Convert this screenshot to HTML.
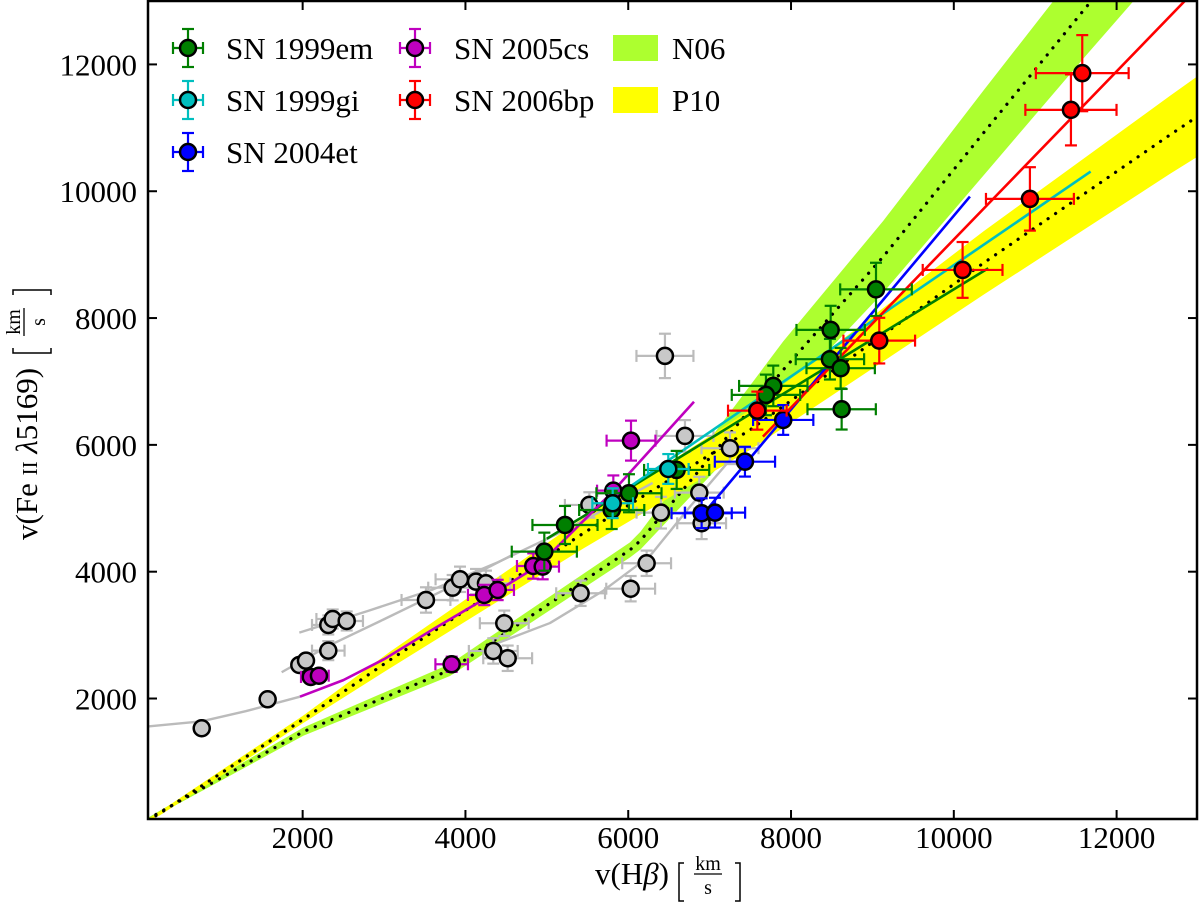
<!DOCTYPE html>
<html><head><meta charset="utf-8"><style>
html,body{margin:0;padding:0;background:#fff;}
svg{display:block;font-family:"Liberation Serif","DejaVu Serif",serif;}
</style></head><body>
<svg id="chart" width="1200" height="902" viewBox="0 0 1200 902">
<defs><clipPath id="clip"><rect x="148" y="1" width="1050" height="818"/></clipPath></defs>
<g id="plot" clip-path="url(#clip)"></g>
<g id="axes"></g>
<g id="legend"></g>
<g font-size="31">
<text x="595" y="884">v(H<tspan font-style="italic">β</tspan>)</text>
<path d="M684,863 h-5 v38 h5 M735,863 h5 v38 h-5" fill="none" stroke="#000" stroke-width="1.5"/>
<text x="708" y="870" font-size="20" text-anchor="middle">km</text>
<line x1="694" y1="874" x2="722" y2="874" stroke="#000" stroke-width="1.3"/>
<text x="708" y="894" font-size="20" text-anchor="middle">s</text>
</g>
<g transform="translate(37,540) rotate(-90)" font-size="31">
<text x="0" y="0">v(Fe <tspan font-size="21">II</tspan> <tspan font-style="italic">λ</tspan>5169)</text>
<path d="M192,-24 h-5 v38 h5 M245,-24 h5 v38 h-5" fill="none" stroke="#000" stroke-width="1.5"/>
<text x="218" y="-17" font-size="20" text-anchor="middle">km</text>
<line x1="204" y1="-13" x2="232" y2="-13" stroke="#000" stroke-width="1.3"/>
<text x="218" y="8" font-size="20" text-anchor="middle">s</text>
</g>
</svg>
<script>
// ---- data ----
const xTicks = [2000, 4000, 6000, 8000, 10000, 12000];
const yTicks = [2000, 4000, 6000, 8000, 10000, 12000];
// N06 band
const n06X = [100, 250, 2008, 3810, 6021, 6150, 7904, 9133, 10362, 11632, 13000];
const n06Y = [100, 210, 1477, 2450, 4343, 4490, 7182, 8968, 10915, 12912, 15015];
const n06W = [20, 25, 65, 95, 120, 140, 450, 565, 670, 760, 850];
// P10 band
const p10X = [100, 247, 2008, 3073, 5448, 7495, 10362, 12655, 13100];
const p10Y = [80, 190, 1673, 2608, 4606, 6235, 8865, 10888, 11270];
const p10W = [20, 30, 60, 130, 240, 315, 500, 615, 640];
// gray comparison sample
const grayX = [760, 1570, 1959, 2041, 2315, 2315, 2369, 2541, 3515, 3843, 3933, 4130, 4252, 4477, 4342, 4519, 5415, 6030, 6226, 5522, 6451, 6697, 7250, 6873, 6402, 6902];
const grayY = [1531, 1988, 2529, 2597, 2755, 3160, 3254, 3223, 3554, 3748, 3880, 3843, 3817, 3187, 2750, 2635, 3660, 3732, 4133, 5053, 7403, 6141, 5947, 5247, 4931, 4764];
const grayXErr = [0, 0, 0, 0, 200, 200, 200, 200, 300, 300, 300, 300, 300, 300, 300, 300, 300, 300, 300, 300, 350, 350, 350, 300, 300, 300];
const grayYErr = [0, 0, 0, 0, 150, 150, 150, 150, 200, 200, 200, 200, 200, 200, 200, 200, 200, 200, 200, 200, 350, 250, 250, 250, 250, 250];
const grayCurveAX = [100, 760, 1300, 1967];
const grayCurveAY = [1560, 1640, 1800, 2029];
const grayCurveBX = [1742, 2300, 3000, 3800, 4600];
const grayCurveBY = [2414, 2820, 3250, 3750, 4280];
const grayCurveCX = [1959, 2800, 3600, 4400, 5300, 6300];
const grayCurveCY = [3039, 3380, 3720, 4150, 4700, 5400];
const grayCurveDX = [4385, 5038, 5693, 6268, 6759, 7250];
const grayCurveDY = [2870, 3190, 3700, 4250, 5026, 5762];
// SN 1999em
const em99X = [5223, 4969, 5797, 6009, 6595, 7782, 7692, 8487, 8478, 8610, 9044, 8622];
const em99Y = [4737, 4316, 4973, 5237, 5605, 6930, 6788, 7813, 7351, 7209, 8452, 6562];
const em99XErr = [400, 400, 400, 400, 400, 420, 420, 420, 420, 420, 440, 420];
const em99YErr = [300, 300, 300, 300, 300, 320, 320, 380, 320, 320, 420, 320];
const em99FitX = [5000, 10423];
const em99FitY = [4520, 8786];
// SN 1999gi
const gi99X = [6492, 5809];
const gi99Y = [5620, 5080];
const gi99XErr = [250, 250];
const gi99YErr = [235, 235];
const gi99FitX = [6021, 11681];
const gi99FitY = [5341, 10310];
// SN 2004et
const et04X = [6902, 7066, 7434, 7904];
const et04Y = [4922, 4931, 5735, 6393];
const et04XErr = [370, 370, 370, 370];
const et04YErr = [235, 235, 235, 235];
const et04FitX = [6963, 10198];
const et04FitY = [4974, 9916];
// SN 2005cs
const cs05X = [2100, 2200, 3831, 4231, 4396, 4833, 4949, 5817, 6034];
const cs05Y = [2340, 2360, 2540, 3633, 3712, 4090, 4080, 5278, 6067];
const cs05XErr = [120, 120, 200, 200, 200, 200, 200, 200, 300];
const cs05YErr = [60, 60, 120, 160, 160, 200, 200, 240, 315];
const cs05FitX = [1967, 2500, 3000, 3600, 4220, 4900, 5800, 6808];
const cs05FitY = [2029, 2290, 2620, 3090, 3560, 4100, 5250, 6680];
// SN 2006bp
const bp06X = [11578, 11439, 10935, 10108, 9084, 7586];
const bp06Y = [11862, 11283, 9879, 8759, 7644, 6540];
const bp06XErr = [570, 560, 540, 490, 440, 360];
const bp06YErr = [600, 560, 500, 440, 360, 300];
const bp06FitX = [7655, 10483, 12837, 13100];
const bp06FitY = [6130, 9879, 13000, 13360];

// ---- scales ----
const X = v => 148 + (v - 100) * 1050 / 12900;
const Y = v => 819 - (v - 100) * 818 / 12900;
const NS = "http://www.w3.org/2000/svg";
function mk(tag, attrs, parent) {
  const e = document.createElementNS(NS, tag);
  for (const k in attrs) e.setAttribute(k, attrs[k]);
  parent.appendChild(e);
  return e;
}
const plot = document.getElementById('plot');
const axes = document.getElementById('axes');
const legend = document.getElementById('legend');

function band(xs, ys, ws, color, name) {
  let up = xs.map((x, i) => X(x) + ',' + Y(ys[i] + ws[i]));
  let lo = xs.map((x, i) => X(x) + ',' + Y(ys[i] - ws[i])).reverse();
  const p = mk('polygon', {points: up.concat(lo).join(' '), fill: color, stroke: 'none'}, plot);
  
  
}
function line(xs, ys, color, w, name, dash) {
  const pts = xs.map((x, i) => X(x) + ',' + Y(ys[i])).join(' ');
  const a = {points: pts, fill: 'none', stroke: color, 'stroke-width': w, 'stroke-linejoin': 'round'};
  if (dash) { a['stroke-dasharray'] = dash; a['stroke-linecap'] = 'round'; }
  const p = mk('polyline', a, plot);
  
  
}
function points(xs, ys, xe, ye, ecolor, fill, name, parent) {
  const g = mk('g', {}, parent);
  
  
  const sw = 2.2, cap = 6;
  xs.forEach((x, i) => {
    const cx = X(x), cy = Y(ys[i]);
    if (xe[i] > 0) {
      const x1 = X(x - xe[i]), x2 = X(x + xe[i]);
      mk('line', {x1: x1, y1: cy, x2: x2, y2: cy, stroke: ecolor, 'stroke-width': sw}, g);
      mk('line', {x1: x1, y1: cy - cap, x2: x1, y2: cy + cap, stroke: ecolor, 'stroke-width': sw}, g);
      mk('line', {x1: x2, y1: cy - cap, x2: x2, y2: cy + cap, stroke: ecolor, 'stroke-width': sw}, g);
    }
    if (ye[i] > 0) {
      const y1 = Y(ys[i] - ye[i]), y2 = Y(ys[i] + ye[i]);
      mk('line', {x1: cx, y1: y1, x2: cx, y2: y2, stroke: ecolor, 'stroke-width': sw}, g);
      mk('line', {x1: cx - cap, y1: y1, x2: cx + cap, y2: y1, stroke: ecolor, 'stroke-width': sw}, g);
      mk('line', {x1: cx - cap, y1: y2, x2: cx + cap, y2: y2, stroke: ecolor, 'stroke-width': sw}, g);
    }
  });
  xs.forEach((x, i) => {
    const c = mk('circle', {cx: X(x), cy: Y(ys[i]), r: 8, fill: fill, stroke: '#000', 'stroke-width': 2.5}, g);
    
    
  });
}

band(n06X, n06Y, n06W, '#adff2f', 'n06-band');
band(p10X, p10Y, p10W, '#ffff00', 'p10-band');
line(n06X, n06Y, '#000', 3.2, 'n06-dotted-line', '0.1 9');
line(p10X, p10Y, '#000', 3.2, 'p10-dotted-line', '0.1 9');
line(grayCurveAX, grayCurveAY, '#bbbbbb', 2.4, 'gray-curve-a');
line(grayCurveBX, grayCurveBY, '#bbbbbb', 2.4, 'gray-curve-b');
line(grayCurveCX, grayCurveCY, '#bbbbbb', 2.4, 'gray-curve-c');
line(grayCurveDX, grayCurveDY, '#bbbbbb', 2.4, 'gray-curve-d');
points(grayX, grayY, grayXErr, grayYErr, '#bbbbbb', '#c8c8c8', 'gray-sample', plot);
line(em99FitX, em99FitY, '#007f00', 2.6, 'sn1999em-fit');
line(gi99FitX, gi99FitY, '#00bfbf', 2.6, 'sn1999gi-fit');
line(et04FitX, et04FitY, '#0000ff', 2.6, 'sn2004et-fit');
line(cs05FitX, cs05FitY, '#bf00bf', 2.6, 'sn2005cs-fit');
line(bp06FitX, bp06FitY, '#ff0000', 2.6, 'sn2006bp-fit');
points(cs05X, cs05Y, cs05XErr, cs05YErr, '#bf00bf', '#bf00bf', 'sn2005cs', plot);
points(em99X, em99Y, em99XErr, em99YErr, '#007f00', '#007f00', 'sn1999em', plot);
points(gi99X, gi99Y, gi99XErr, gi99YErr, '#00bfbf', '#00bfbf', 'sn1999gi', plot);
points(et04X, et04Y, et04XErr, et04YErr, '#0000ff', '#0000ff', 'sn2004et', plot);
points(bp06X, bp06Y, bp06XErr, bp06YErr, '#ff0000', '#ff0000', 'sn2006bp', plot);

// axes frame and ticks
const fr = mk('rect', {x: 148, y: 1, width: 1049, height: 818, fill: 'none', stroke: '#000', 'stroke-width': 2.5}, axes);


xTicks.forEach(t => {
  const x = X(t);
  mk('line', {x1: x, y1: 819, x2: x, y2: 810, stroke: '#000', 'stroke-width': 2}, axes);
  mk('line', {x1: x, y1: 1, x2: x, y2: 10, stroke: '#000', 'stroke-width': 2}, axes);
  const tx = mk('text', {x: x, y: 848, 'font-size': 31, 'text-anchor': 'middle'}, axes);
  tx.textContent = t;
  
  
});
yTicks.forEach(t => {
  const y = Y(t);
  mk('line', {x1: 148, y1: y, x2: 157, y2: y, stroke: '#000', 'stroke-width': 2}, axes);
  mk('line', {x1: 1197, y1: y, x2: 1188, y2: y, stroke: '#000', 'stroke-width': 2}, axes);
  const ty = mk('text', {x: 137, y: y + 11, 'font-size': 31, 'text-anchor': 'end'}, axes);
  ty.textContent = t;
  
  
});

// legend
const legItems = [
  ['SN 1999em', '#007f00', 188, 226, 48],
  ['SN 1999gi', '#00bfbf', 188, 226, 100],
  ['SN 2004et', '#0000ff', 188, 226, 152],
  ['SN 2005cs', '#bf00bf', 415, 454, 48],
  ['SN 2006bp', '#ff0000', 415, 454, 100]
];
legItems.forEach(it => {
  const g = mk('g', {}, legend);
  
  
  const [lab, c, mx, tx, cy] = it;
  mk('line', {x1: mx - 15, y1: cy, x2: mx + 15, y2: cy, stroke: c, 'stroke-width': 2.2}, g);
  mk('line', {x1: mx - 15, y1: cy - 6, x2: mx - 15, y2: cy + 6, stroke: c, 'stroke-width': 2.2}, g);
  mk('line', {x1: mx + 15, y1: cy - 6, x2: mx + 15, y2: cy + 6, stroke: c, 'stroke-width': 2.2}, g);
  mk('line', {x1: mx, y1: cy - 19, x2: mx, y2: cy + 19, stroke: c, 'stroke-width': 2.2}, g);
  mk('line', {x1: mx - 6, y1: cy - 19, x2: mx + 6, y2: cy - 19, stroke: c, 'stroke-width': 2.2}, g);
  mk('line', {x1: mx - 6, y1: cy + 19, x2: mx + 6, y2: cy + 19, stroke: c, 'stroke-width': 2.2}, g);
  mk('circle', {cx: mx, cy: cy, r: 8, fill: c, stroke: '#000', 'stroke-width': 2.5}, g);
  const t = mk('text', {x: tx, y: cy + 11, 'font-size': 31}, g);
  t.textContent = lab;
});
[['N06', '#adff2f', 48], ['P10', '#ffff00', 100]].forEach(it => {
  const g = mk('g', {}, legend);
  
  
  mk('rect', {x: 613, y: it[2] - 13, width: 45, height: 26, fill: it[1]}, g);
  const t = mk('text', {x: 672, y: it[2] + 11, 'font-size': 31}, g);
  t.textContent = it[0];
});
</script>
</body></html>
